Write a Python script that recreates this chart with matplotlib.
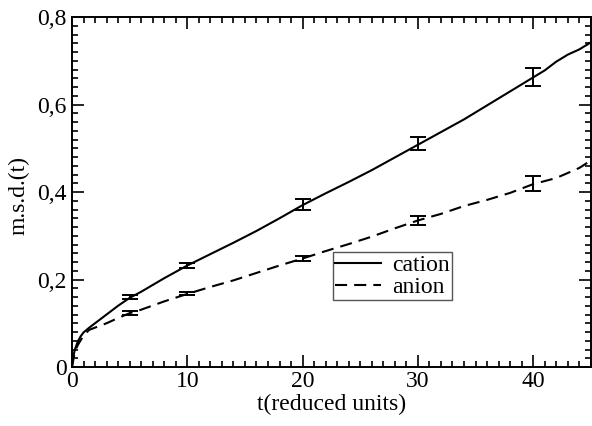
import matplotlib
matplotlib.use("Agg")
import matplotlib.pyplot as plt
from matplotlib.ticker import MultipleLocator, FuncFormatter

plt.rcParams['font.family'] = ['Liberation Serif', 'DejaVu Serif']

# mean square displacement curves
t_cation = [0, 0.1, 0.25, 0.5, 0.75, 1, 1.5, 2, 3, 4, 5, 6, 8, 10, 12, 14, 16, 18, 20,
            22, 24, 26, 28, 30, 32, 34, 36, 38, 40, 41, 42, 43, 44, 45]
msd_cation = [0, 0.022, 0.04, 0.058, 0.07, 0.079, 0.09, 0.1, 0.12, 0.14, 0.158, 0.172,
              0.203, 0.232, 0.258, 0.284, 0.311, 0.34, 0.37, 0.397, 0.423, 0.45, 0.479,
              0.508, 0.537, 0.566, 0.598, 0.63, 0.662, 0.678, 0.698, 0.714, 0.726, 0.742]

t_anion = [0, 0.25, 0.5, 1, 1.5, 2, 3, 4, 5, 6, 8, 10, 12, 14, 16, 18, 20, 22, 24, 26,
           28, 30, 32, 34, 36, 38, 40, 42, 44, 45]
msd_anion = [0, 0.035, 0.05, 0.072, 0.085, 0.09, 0.1, 0.112, 0.123, 0.131, 0.15, 0.167,
             0.183, 0.198, 0.215, 0.232, 0.248, 0.265, 0.281, 0.298, 0.317, 0.335, 0.35,
             0.368, 0.382, 0.398, 0.418, 0.432, 0.455, 0.472]

# error bars
t_err = [5, 10, 20, 30, 40]
cation_err_y = [0.16, 0.232, 0.372, 0.51, 0.663]
cation_err = [0.005, 0.006, 0.012, 0.015, 0.02]
anion_err_y = [0.123, 0.168, 0.248, 0.335, 0.42]
anion_err = [0.004, 0.004, 0.005, 0.01, 0.017]

fig = plt.figure(figsize=(5.92, 4.26), dpi=100)
ax = fig.add_axes([0.1216, 0.1385, 0.8764, 0.8215])

ax.plot(t_cation, msd_cation, color='black', lw=1.5, label='cation')
ax.plot(t_anion, msd_anion, color='black', lw=1.5, dashes=(5.8, 3.4), label='anion')
ax.errorbar(t_err, cation_err_y, yerr=cation_err, fmt='none', ecolor='black',
            elinewidth=1.4, capsize=5.5, capthick=1.4)
ax.errorbar(t_err, anion_err_y, yerr=anion_err, fmt='none', ecolor='black',
            elinewidth=1.4, capsize=5.5, capthick=1.4)

ax.set_xlim(0, 45)
ax.set_ylim(0, 0.8)
ax.xaxis.set_major_locator(MultipleLocator(10))
ax.xaxis.set_minor_locator(MultipleLocator(1))
ax.yaxis.set_major_locator(MultipleLocator(0.2))
ax.yaxis.set_minor_locator(MultipleLocator(0.02))
ax.yaxis.set_major_formatter(FuncFormatter(lambda v, p: ('%g' % round(v, 2)).replace('.', ',')))

ax.tick_params(which='both', direction='in', top=True, right=True, labelsize=17, width=1.2)
ax.tick_params(which='major', length=8.5)
ax.tick_params(axis='x', which='major', pad=3)
ax.tick_params(axis='y', which='major', pad=4)
ax.tick_params(which='minor', length=4.3)
for s in ax.spines.values():
    s.set_linewidth(1.4)

ax.set_xlabel('t(reduced units)', fontsize=17, labelpad=1)
ax.set_ylabel('m.s.d.(t)', fontsize=17)
ax.yaxis.set_label_coords(-0.081, 0.49)

leg = ax.legend(loc='lower left', bbox_to_anchor=(0.503, 0.191), borderaxespad=0,
                fontsize=17, handlelength=1.95, labelspacing=0.0, borderpad=0.1,
                handletextpad=0.47, fancybox=False, framealpha=1)
leg.get_frame().set_edgecolor('#555555')
leg.get_frame().set_linewidth(1.0)

fig.savefig('out.png', dpi=100)
